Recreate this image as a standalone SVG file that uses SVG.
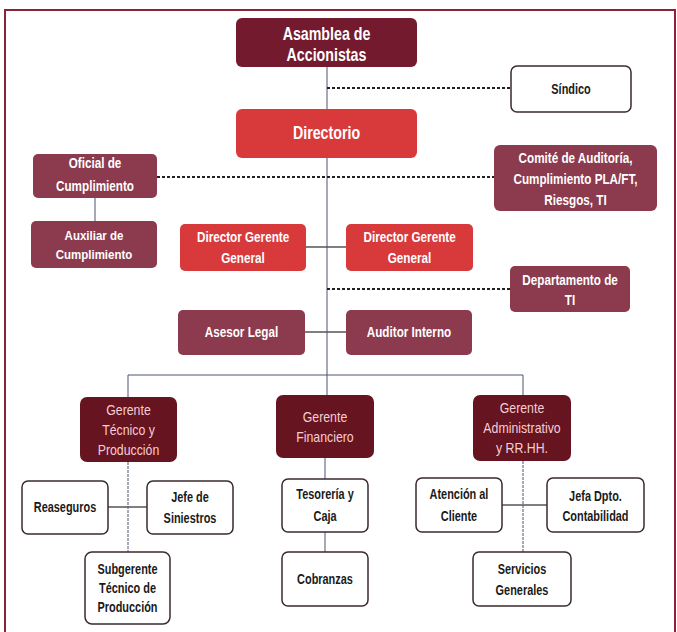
<svg xmlns="http://www.w3.org/2000/svg" width="677" height="632" viewBox="0 0 677 632">
<style>
text{font-family:"Liberation Sans",Arial,sans-serif;font-weight:bold;text-anchor:middle;transform-box:fill-box;transform-origin:center;transform:scaleX(0.79)}
.t16{font-size:18px;fill:#fff}
.t13{font-size:15px;fill:#fff;transform:scaleX(0.78)}
.t11{font-size:12.5px;fill:#fff;transform:scaleX(0.92)}
.tg{font-size:14px;font-weight:normal;fill:#f7cdd6;transform:scaleX(0.88)}
.tb{font-size:14px;fill:#1a1a1a;transform:scaleX(0.78)}
.dark{fill:#741a2e}
.red{fill:#d83a3c}
.mid{fill:#8c3a4e}
.deep{fill:#66141f}
.wht{fill:#fff;stroke:#3a2a2e;stroke-width:1.5}
.ln{stroke:#4d5270;stroke-width:1;fill:none}
.lg{stroke:#555;stroke-width:1.5;fill:none}
.dot{stroke:#222;stroke-width:2;stroke-dasharray:3 2;fill:none}
</style>
<rect x="5" y="10" width="670" height="624" fill="none" stroke="#8a2238" stroke-width="2"/>
<g id="connectors">
<line class="ln" x1="327" y1="67" x2="327" y2="375"/>
<line class="dot" x1="327" y1="88" x2="511" y2="88"/>
<line class="dot" x1="157" y1="177" x2="494" y2="177"/>
<line class="ln" x1="95" y1="198" x2="95" y2="221"/>
<line class="lg" x1="306" y1="247" x2="346" y2="247"/>
<line class="dot" x1="327" y1="289" x2="510" y2="289"/>
<line class="lg" x1="305" y1="332" x2="346" y2="332"/>
<line class="ln" x1="128" y1="375" x2="523" y2="375"/>
<line class="ln" x1="128" y1="375" x2="128" y2="397"/>
<line class="ln" x1="523" y1="375" x2="523" y2="395"/>
<line class="ln" x1="327" y1="375" x2="327" y2="395"/>
<line class="ln" x1="128" y1="462" x2="128" y2="552" stroke-dasharray="3 1"/>
<line class="lg" x1="108" y1="507" x2="147" y2="507"/>
<line class="ln" x1="325" y1="458" x2="325" y2="479"/>
<line class="ln" x1="325" y1="532" x2="325" y2="552"/>
<line class="ln" x1="523" y1="461" x2="523" y2="552" stroke-dasharray="3 1"/>
<line class="lg" x1="502" y1="505" x2="547" y2="505"/>
</g>
<g id="asamblea"><rect class="dark" x="236" y="18" width="181" height="49" rx="6"/><text class="t16" x="326.5" y="40.5">Asamblea de</text><text class="t16" x="326.5" y="61.5">Accionistas</text></g>
<g id="sindico"><rect class="wht" x="511" y="66" width="120" height="46" rx="6"/><text class="tb" x="571" y="94">Síndico</text></g>
<g id="directorio"><rect class="red" x="236" y="109" width="181" height="49" rx="6"/><text class="t16" x="326.5" y="139.5">Directorio</text></g>
<g id="oficial"><rect class="mid" x="33" y="154" width="124" height="44" rx="5"/><text class="t13" x="95" y="168.5">Oficial de</text><text class="t13" x="95" y="191.5">Cumplimiento</text></g>
<g id="comite"><rect class="mid" x="494" y="145" width="163" height="66" rx="6"/><text class="t13" x="575.5" y="163.5">Comité de Auditoría,</text><text class="t13" x="575.5" y="184.5">Cumplimiento PLA/FT,</text><text class="t13" x="575.5" y="205.5">Riesgos, TI</text></g>
<g id="auxiliar"><rect class="mid" x="31" y="221" width="126" height="47" rx="5"/><text class="t11" x="94" y="240.5">Auxiliar de</text><text class="t11" x="94" y="259.5">Cumplimiento</text></g>
<g id="dgg1"><rect class="red" x="180" y="224" width="126" height="47" rx="5"/><text class="t13" x="243" y="242.5">Director Gerente</text><text class="t13" x="243" y="263.5">General</text></g>
<g id="dgg2"><rect class="red" x="346" y="224" width="127" height="47" rx="5"/><text class="t13" x="409.5" y="242.5">Director Gerente</text><text class="t13" x="409.5" y="263.5">General</text></g>
<g id="deptoti"><rect class="mid" x="510" y="266" width="120" height="46" rx="5"/><text class="t13" x="570" y="285.5">Departamento de</text><text class="t13" x="570" y="305.5">TI</text></g>
<g id="asesor"><rect class="mid" x="178" y="310" width="127" height="45" rx="5"/><text class="t13" x="241.5" y="337.5">Asesor Legal</text></g>
<g id="auditor"><rect class="mid" x="346" y="310" width="126" height="45" rx="5"/><text class="t13" x="409" y="337.5">Auditor Interno</text></g>
<g id="gtecnico"><rect class="deep" x="80" y="397" width="97" height="65" rx="7"/><text class="tg" x="128.5" y="415">Gerente</text><text class="tg" x="128.5" y="435">Técnico y</text><text class="tg" x="128.5" y="455">Producción</text></g>
<g id="gfinanciero"><rect class="deep" x="276" y="395" width="98" height="63" rx="7"/><text class="tg" x="325" y="422.5">Gerente</text><text class="tg" x="325" y="442.5">Financiero</text></g>
<g id="gadmin"><rect class="deep" x="473" y="395" width="98" height="66" rx="7"/><text class="tg" x="522" y="413">Gerente</text><text class="tg" x="522" y="433">Administrativo</text><text class="tg" x="522" y="453">y RR.HH.</text></g>
<g id="reaseguros"><rect class="wht" x="22" y="481" width="86" height="53" rx="6"/><text class="tb" x="65" y="512">Reaseguros</text></g>
<g id="siniestros"><rect class="wht" x="147" y="481" width="86" height="53" rx="6"/><text class="tb" x="190" y="502.5">Jefe de</text><text class="tb" x="190" y="523.5">Siniestros</text></g>
<g id="tesoreria"><rect class="wht" x="282" y="479" width="86" height="53" rx="6"/><text class="tb" x="325" y="499.5">Tesorería y</text><text class="tb" x="325" y="521.5">Caja</text></g>
<g id="atencion"><rect class="wht" x="416" y="478" width="86" height="54" rx="6"/><text class="tb" x="459" y="499.5">Atención al</text><text class="tb" x="459" y="521.5">Cliente</text></g>
<g id="contabilidad"><rect class="wht" x="547" y="478" width="97" height="54" rx="6"/><text class="tb" x="595.5" y="501">Jefa Dpto.</text><text class="tb" x="595.5" y="521.5">Contabilidad</text></g>
<g id="subgerente"><rect class="wht" x="85" y="552" width="85" height="72" rx="7"/><text class="tb" x="127.5" y="574">Subgerente</text><text class="tb" x="127.5" y="593">Técnico de</text><text class="tb" x="127.5" y="612">Producción</text></g>
<g id="cobranzas"><rect class="wht" x="282" y="552" width="86" height="54" rx="6"/><text class="tb" x="325" y="584">Cobranzas</text></g>
<g id="servicios"><rect class="wht" x="473" y="552" width="98" height="54" rx="6"/><text class="tb" x="522" y="574.5">Servicios</text><text class="tb" x="522" y="595.5">Generales</text></g>
</svg>
